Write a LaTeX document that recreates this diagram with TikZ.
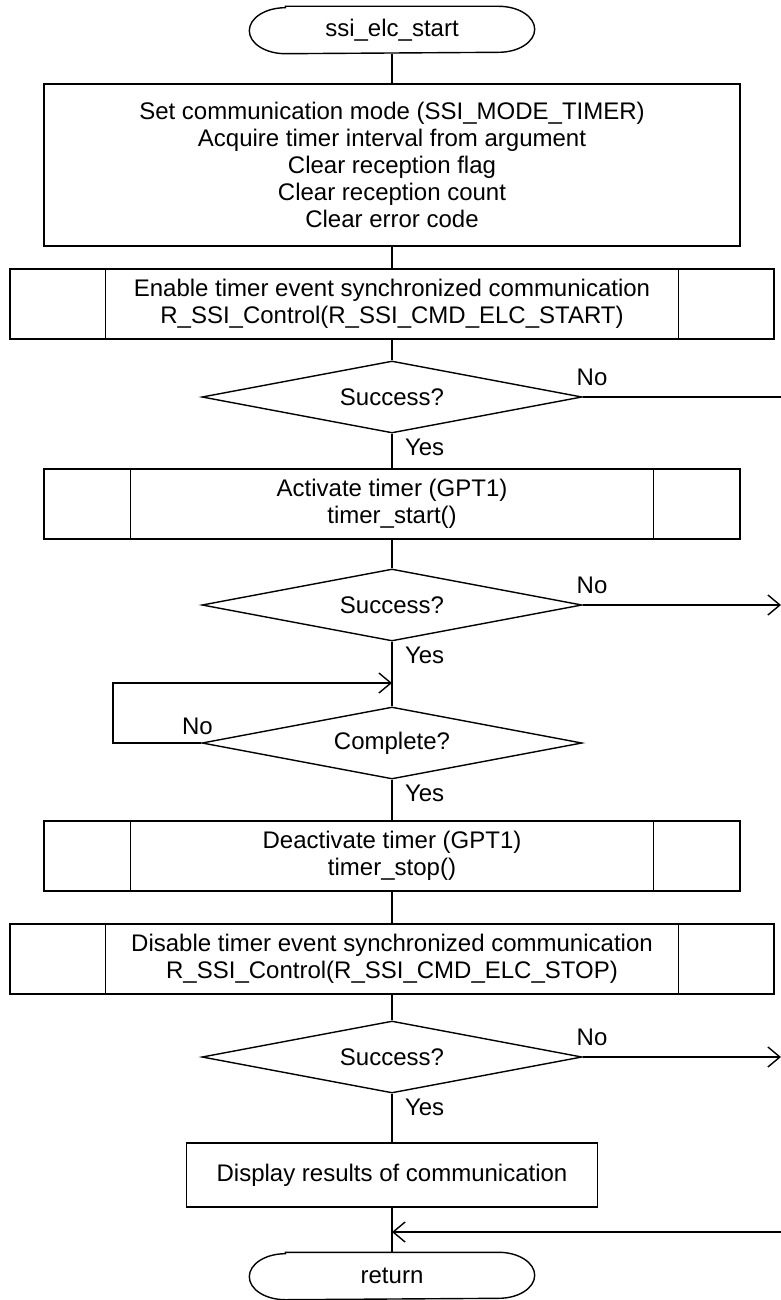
\documentclass[tikz,border=0pt]{standalone}
\usepackage{fontspec}
\setmainfont{Liberation Sans}
\usepackage{tikz}
\usetikzlibrary{positioning}
\usetikzlibrary{arrows.meta,shapes}
\usetikzlibrary{calc}
\newcommand{\flowfont}{\fontsize{24}{27}\selectfont}
\tikzstyle{terminal}=[rectangle,minimum width=284pt,minimum height=46pt,inner sep=0pt]
\tikzstyle{process}=[rectangle,draw,align=center,inner sep=0pt]
\tikzstyle{subproc}=[rectangle,draw,align=center,inner sep=0pt,minimum height=70pt]
\tikzstyle{decision}=[diamond,draw,aspect=5.3,minimum width=380pt,minimum height=72pt,inner sep=0pt]
\tikzstyle{edge} = [draw,-{Straight Barb[length=12pt,width=20pt]}]
\tikzstyle{undirectededge} = [draw]
\tikzstyle{weight} = [anchor=base west]

\begin{document}
\begin{tikzpicture}[x=1pt,y=-1pt,line width=1.4pt,every node/.style={font=\flowfont}]
    \useasboundingbox (0,0) rectangle (781,1300);
    \def\cx{392}
    % First we draw the blocks
    \node[terminal] (start) at (\cx,30) {ssi\_elc\_start};
    \node[process,minimum width=696pt,minimum height=162pt] (init) at (\cx,165)
        {Set communication mode (SSI\_MODE\_TIMER)\\Acquire timer interval from argument\\Clear reception flag\\Clear reception count\\Clear error code};

    % sub-routine calls
    \foreach \y/\name/\bw/\txt in {{304/en/764/{Enable timer event synchronized communication\\R\_SSI\_Control(R\_SSI\_CMD\_ELC\_START)}},
        {504/act/696/{Activate timer (GPT1)\\timer\_start()}},
        {856/deact/696/{Deactivate timer (GPT1)\\timer\_stop()}},
        {959/dis/764/{Disable timer event synchronized communication\\R\_SSI\_Control(R\_SSI\_CMD\_ELC\_STOP)}}}
        \node[subproc,minimum width=\bw pt] (\name) at (\cx,\y) {\txt};
    \foreach \name/\dx in {en/96, act/87, deact/87, dis/96}{
        \draw ([xshift=\dx]\name.north west) -- ([xshift=\dx]\name.south west);
        \draw ([xshift=-\dx]\name.north east) -- ([xshift=-\dx]\name.south east);
    }

    % decisions
    \foreach \y/\name/\txt in {397/d1/Success?, 605/d2/Success?, 743/d3/Complete?, 1057/d4/Success?}
        \node[decision] (\name) at (\cx,\y) {\txt};

    \node[process,minimum width=411pt,minimum height=64pt] (disp) at (\cx,1175) {Display results of communication};
    \node[terminal] (ret) at (\cx,1276) {return};

    % outline of the terminals, ends are half ellipses
    \foreach \name in {start,ret}
        \draw ([xshift=36pt]\name.north west) -- ([xshift=-36pt]\name.north east) arc (90:-90:36pt and 23pt)
            -- ([xshift=36pt]\name.south west) arc (270:90:36pt and 23pt) -- cycle;

    % Connect blocks with edges
    \foreach \source/\dest in {start/init, init/en, en/d1, d1/act, act/d2, d2/d3, d3/deact, deact/dis, dis/d4, d4/disp, disp/ret}
        \path[undirectededge] (\source) -- (\dest);
    \foreach \name in {d1,d2,d3,d4}
        \node[weight] (yes\name) at ([xshift=9pt,yshift=-22pt]\name.south) {Yes};

    % No branches to the right edge
    \coordinate (exit) at (781,0);
    \path[undirectededge] (d1.east) -- (d1.east -| exit);
    \path[edge] (d2.east) -- (d2.east -| exit);
    \path[edge] (d4.east) -- (d4.east -| exit);
    \foreach \name in {d1,d2,d4}
        \node[weight] (no\name) at ([xshift=-10pt,yshift=12pt]\name.east) {No};

    % wait loop
    \coordinate (loopL) at (113,683);
    \coordinate (loopin) at (\cx,683);
    \path[edge] (d3.west) -| (loopL) -- (loopin);
    \node[weight] (nod3) at (178,734) {No};

    % error return
    \coordinate (back) at (781,1232);
    \coordinate (join) at (\cx,1232);
    \path[edge] (back) -- (join);
\end{tikzpicture}
\end{document}
